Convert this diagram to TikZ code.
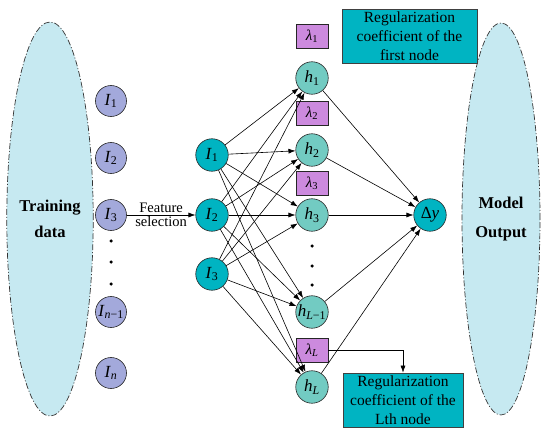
\documentclass[tikz,border=0pt]{standalone}
\usepackage{fontspec}
\setmainfont{Liberation Serif}
\usetikzlibrary{arrows.meta,shapes.geometric}
\definecolor{ellfill}{HTML}{C6E9F1}
\definecolor{inpfill}{HTML}{A3A9DB}
\definecolor{tealfill}{HTML}{00B4C2}
\definecolor{hidfill}{HTML}{72CBC2}
\definecolor{lamfill}{HTML}{CC8ADE}
\newcommand\vv[2]{\textit{#1}\textsubscript{#2}}
\begin{document}
\begin{tikzpicture}[x=1pt,y=-1pt,
  ell/.style={ellipse,fill=ellfill,draw=black!80,line width=0.7pt,
    dash pattern=on 6pt off 2pt on 1pt off 2pt,inner sep=0pt,
    font=\fontsize{16.5}{18}\selectfont\bfseries,align=center},
  circ/.style={circle,draw=black!85,line width=0.6pt,minimum size=32.5pt,inner sep=0pt,
    font=\fontsize{17}{19}\selectfont},
  inp/.style={circ,fill=inpfill,minimum size=31pt},
  mid/.style={circ,fill=tealfill},
  hid/.style={circ,fill=hidfill},
  lam/.style={rectangle,draw=black!85,line width=0.6pt,fill=lamfill,
    minimum width=32pt,minimum height=24pt,inner sep=0pt,font=\fontsize{15}{17}\selectfont},
  regbox/.style={rectangle,draw=black!75,line width=0.7pt,fill=tealfill,inner sep=0pt,
    align=center,font=\fontsize{15.5}{19}\selectfont},
  arr/.style={draw=black,line width=0.6pt,-{Latex[length=7pt,width=5pt]}},
  lbl/.style={font=\fontsize{14.5}{16}\selectfont,inner sep=1pt},
  dotn/.style={circle,fill=black,inner sep=0pt,minimum size=3.5pt}
]
\useasboundingbox (0,0) rectangle (550,436);

% ellipses
\node[ell,minimum width=86pt,minimum height=394pt] (train) at (50,219) {Training\\[8pt]data};
\node[ell,minimum width=78pt,minimum height=392pt] (out) at (501,219) {Model\\[11pt]Output};

% left inputs
\node[inp] (i1) at (111,101) {\vv{I}{1}};
\node[inp] (i2) at (111,158) {\vv{I}{2}};
\node[inp] (i3) at (111,215) {\vv{I}{3}};
\node[inp] (in1) at (111,312) {\vv{I}{\textit{n}−1}};
\node[inp] (in) at (111,373) {\vv{I}{\textit{n}}};
\node[dotn] (ld1) at (111,241) {};
\node[dotn] (ld2) at (111,262) {};
\node[dotn] (ld3) at (111,284) {};

% selected inputs
\node[mid] (m1) at (212,155) {\vv{I}{1}};
\node[mid] (m2) at (212,215) {\vv{I}{2}};
\node[mid] (m3) at (212,274) {\vv{I}{3}};

\draw[arr] (i3) -- node[above,lbl,yshift=1pt]{Feature}
  node[below,lbl]{selection} (m2);

% hidden nodes
\node[hid] (h1) at (312,78) {\vv{h}{1}};
\node[hid] (h2) at (312,150) {\vv{h}{2}};
\node[hid] (h3) at (312,215) {\vv{h}{3}};
\node[hid] (hL1) at (312,312) {\vv{h}{\textit{L}−1}};
\node[hid] (hL) at (312,387) {\vv{h}{\textit{L}}};
\node[dotn] (hd1) at (312,246) {};
\node[dotn] (hd2) at (312,266) {};
\node[dotn] (hd3) at (312,285) {};

% lambdas
\node[lam] (l1) at (312,36) {\vv{λ}{1}};
\node[lam] (l2) at (312,113) {\vv{λ}{2}};
\node[lam] (l3) at (312,183) {\vv{λ}{3}};
\node[lam] (lL) at (312,350) {\vv{λ}{\textit{L}}};

% output node
\node[mid] (dy) at (430,215) {Δ\textit{y}};

% connections
\foreach \a in {m1,m2,m3}
  \foreach \b in {h1,h2,h3,hL1,hL}
    \draw[arr] (\a) -- (\b);
\foreach \b in {h1,h2,h3,hL1,hL}
  \draw[arr] (\b) -- (dy);

% regularization boxes
\node[regbox,minimum width=135pt,minimum height=54pt] (r1) at (409.5,36)
  {Regularization\\coefficient of the\\first node};
\node[regbox,minimum width=120pt,minimum height=54pt] (r2) at (403,400)
  {Regularization\\coefficient of the\\Lth node};
\draw[arr] (lL.east) -| (r2.north);
\end{tikzpicture}
\end{document}
